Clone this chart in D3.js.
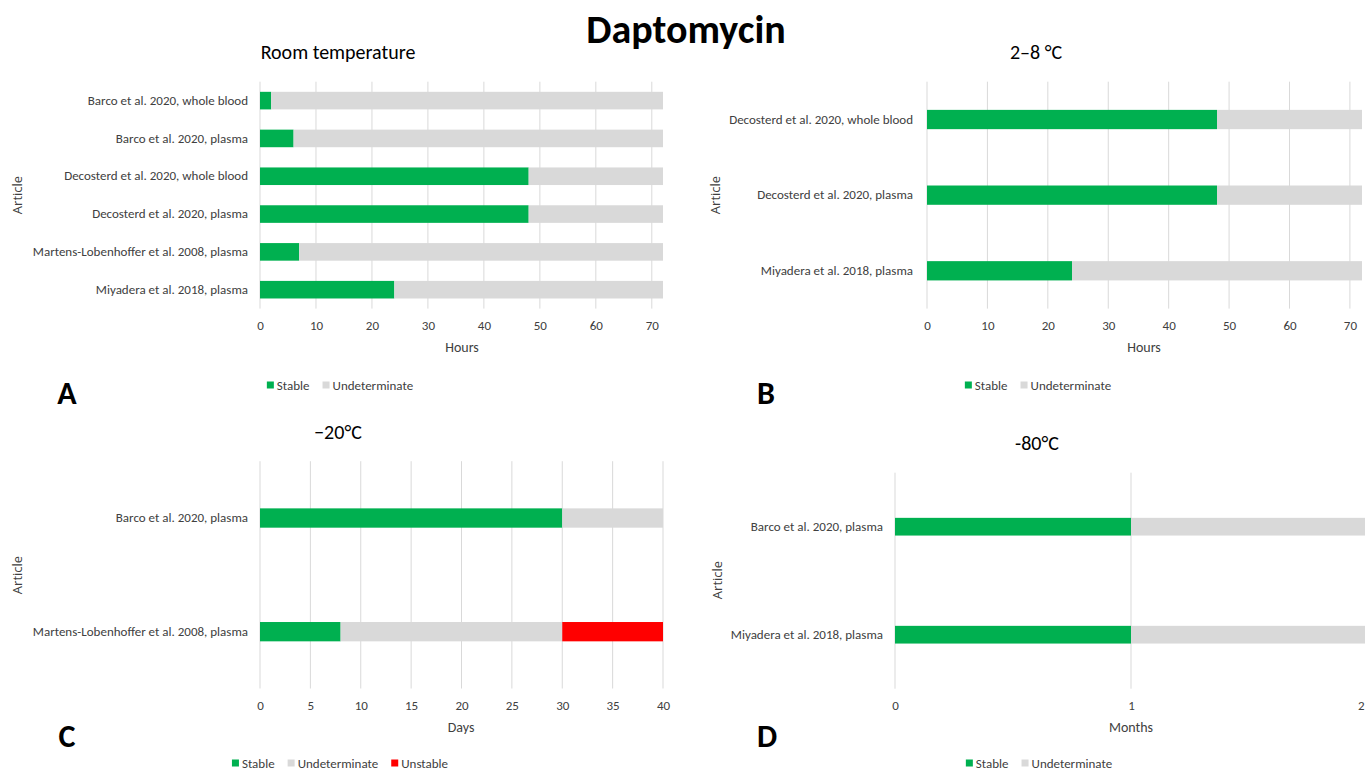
<!DOCTYPE html>
<html>
<head>
<meta charset="utf-8">
<script src="https://cdn.jsdelivr.net/npm/d3@7"></script>
<style>
  body { margin: 0; background: #fff; }
  svg { display: block; }
  text { font-family: "Carlito", "Lato", sans-serif; }
  .wide { font-family: "Open Sans", "Noto Sans", sans-serif; }
</style>
</head>
<body>
<svg id="chart" width="1365" height="771"></svg>
<script>
// ---------- DATA ----------
const mainTitle = "Daptomycin";

const catsA = ["Barco et al. 2020, whole blood", "Barco et al. 2020, plasma", "Decosterd et al. 2020, whole blood",
  "Decosterd et al. 2020, plasma", "Martens-Lobenhoffer et al. 2008, plasma", "Miyadera et al. 2018, plasma"];
const stableA = [2, 6, 48, 48, 7, 24];
const undetA = [70, 66, 24, 24, 65, 48];
const ticksA = [0, 10, 20, 30, 40, 50, 60, 70];

const catsB = ["Decosterd et al. 2020, whole blood", "Decosterd et al. 2020, plasma", "Miyadera et al. 2018, plasma"];
const stableB = [48, 48, 24];
const undetB = [24, 24, 48];
const ticksB = [0, 10, 20, 30, 40, 50, 60, 70];

const catsC = ["Barco et al. 2020, plasma", "Martens-Lobenhoffer et al. 2008, plasma"];
const stableC = [30, 8];
const undetC = [10, 22];
const unstableC = [0, 10];
const ticksC = [0, 5, 10, 15, 20, 25, 30, 35, 40];

const catsD = ["Barco et al. 2020, plasma", "Miyadera et al. 2018, plasma"];
const stableD = [1, 1];
const undetD = [1, 1];
const ticksD = [0, 1, 2];

const seriesNames = ["Stable", "Undeterminate", "Unstable"];
const seriesColors = ["#00B050", "#D9D9D9", "#FF0000"];

// ---------- DRAW ----------
const W = 1365;
const svg = d3.select("#chart");
const txt = "#404040";

svg.append("text").attr("x", 686).attr("y", 29).attr("text-anchor", "middle")
  .attr("dominant-baseline", "central").attr("font-size", 40).attr("font-weight", "bold")
  .attr("fill", "#000").text(mainTitle);

function panel(cfg) {
  const g = svg.append("g");
  const x = d3.scaleLinear().domain(cfg.domain).range([cfg.x0, cfg.x1]);
  const y = d3.scaleBand().domain(cfg.cats).range([cfg.top, cfg.bottom]).paddingInner(cfg.pad).paddingOuter(cfg.pad / 2);

  // gridlines
  g.append("g").selectAll("line").data(cfg.ticks).join("line")
    .attr("x1", d => x(d)).attr("x2", d => x(d))
    .attr("y1", cfg.top).attr("y2", cfg.bottom)
    .attr("stroke", "#D9D9D9").attr("stroke-width", 1);

  // stacked bars
  const rows = cfg.cats.map((c, i) => ({ cat: c, vals: cfg.series.map(s => s[i]) }));
  const stack = d3.stack().keys(d3.range(cfg.series.length)).value((d, k) => d.vals[k]);
  const layers = stack(rows);
  layers.forEach((layer, k) => {
    g.append("g").attr("fill", seriesColors[k]).selectAll("rect").data(layer).join("rect")
      .attr("x", d => x(d[0])).attr("width", d => Math.max(0, x(d[1]) - x(d[0])))
      .attr("y", d => y(d.data.cat)).attr("height", y.bandwidth());
  });

  // x axis labels
  const ax = d3.axisBottom(x).tickValues(cfg.ticks).tickSize(0).tickPadding(0).tickFormat(d3.format("d"));
  const axg = g.append("g").attr("transform", `translate(0,${cfg.bottom + 17})`).call(ax);
  axg.select(".domain").remove();
  axg.attr("font-family", null);
  axg.selectAll("text").attr("font-size", 13).attr("fill", txt).attr("dy", "0.35em")
    .each(function (d) {
      // keep the last label inside the picture when it sits on the right edge
      if (x(d) + 4 > W) d3.select(this).attr("text-anchor", "end").attr("x", W - 1 - x(d));
    });

  // y axis labels
  const ay = d3.axisLeft(y).tickSize(0).tickPadding(0);
  const ayg = g.append("g").attr("transform", `translate(${cfg.labelX},0)`).call(ay);
  ayg.select(".domain").remove();
  ayg.attr("font-family", null);
  ayg.selectAll("text").attr("font-size", 13).attr("fill", txt);

  // axis titles
  g.append("text").attr("x", cfg.xTitle[0]).attr("y", cfg.xTitle[1]).attr("text-anchor", "middle")
    .attr("dominant-baseline", "central").attr("font-size", 14).attr("fill", txt).text(cfg.xLabel);
  g.append("text").attr("class", "wide").attr("transform", `translate(${cfg.yTitle[0]},${cfg.yTitle[1]}) rotate(-90)`)
    .attr("text-anchor", "middle").attr("dominant-baseline", "central").attr("font-size", 13)
    .attr("fill", txt).text("Article");

  // title
  g.append("text").attr("x", cfg.title[0]).attr("y", cfg.title[1]).attr("text-anchor", "middle")
    .attr("dominant-baseline", "central").attr("font-size", 20).attr("fill", "#000").text(cfg.titleText);

  // panel letter
  g.append("text").attr("x", cfg.letter[0]).attr("y", cfg.letter[1]).attr("text-anchor", "middle")
    .attr("dominant-baseline", "central").attr("font-size", 32).attr("font-weight", "bold")
    .attr("fill", "#000").text(cfg.letterText);

  // legend
  const lg = g.append("g");
  let cx = 0;
  const n = cfg.series.length;
  for (let k = 0; k < n; k++) {
    lg.append("rect").attr("x", cx).attr("y", cfg.legendY - 4).attr("width", 7).attr("height", 7).attr("fill", seriesColors[k]);
    const t = lg.append("text").attr("x", cx + 10).attr("y", cfg.legendY).attr("dominant-baseline", "central")
      .attr("font-size", 13).attr("fill", txt).text(seriesNames[k]);
    cx += 10 + t.node().getComputedTextLength() + 13;
  }
  const lw = cx - 13;
  lg.attr("transform", `translate(${cfg.legendCx - lw / 2},0)`);
}

panel({ cats: catsA, series: [stableA, undetA], ticks: ticksA, domain: [0, 72], x0: 260, x1: 663,
  top: 81.7, bottom: 308.6, pad: 0.535, labelX: 248, xLabel: "Hours", xTitle: [462, 347], yTitle: [17, 195],
  titleText: "Room temperature", title: [338, 52], letterText: "A", letter: [67, 393], legendY: 385.5, legendCx: 340 });

panel({ cats: catsB, series: [stableB, undetB], ticks: ticksB, domain: [0, 72], x0: 927, x1: 1362,
  top: 81.7, bottom: 308.6, pad: 0.745, labelX: 913, xLabel: "Hours", xTitle: [1144, 347], yTitle: [715, 195],
  titleText: "2–8 °C", title: [1036, 52], letterText: "B", letter: [766, 393], legendY: 385.5, legendCx: 1038 });

panel({ cats: catsC, series: [stableC, undetC, unstableC], ticks: ticksC, domain: [0, 40], x0: 260, x1: 663,
  top: 461.2, bottom: 688.5, pad: 0.83, labelX: 248, xLabel: "Days", xTitle: [461, 727], yTitle: [17, 575],
  titleText: "−20°C", title: [338, 432], letterText: "C", letter: [67, 736], legendY: 763.5, legendCx: 340 });

panel({ cats: catsD, series: [stableD, undetD], ticks: ticksD, domain: [0, 2], x0: 895, x1: 1367,
  top: 472.7, bottom: 688.7, pad: 0.836, labelX: 883, xLabel: "Months", xTitle: [1131, 727], yTitle: [717, 580],
  titleText: "-80°C", title: [1037, 443], letterText: "D", letter: [767, 736], legendY: 763.5, legendCx: 1039 });
</script>
</body>
</html>
